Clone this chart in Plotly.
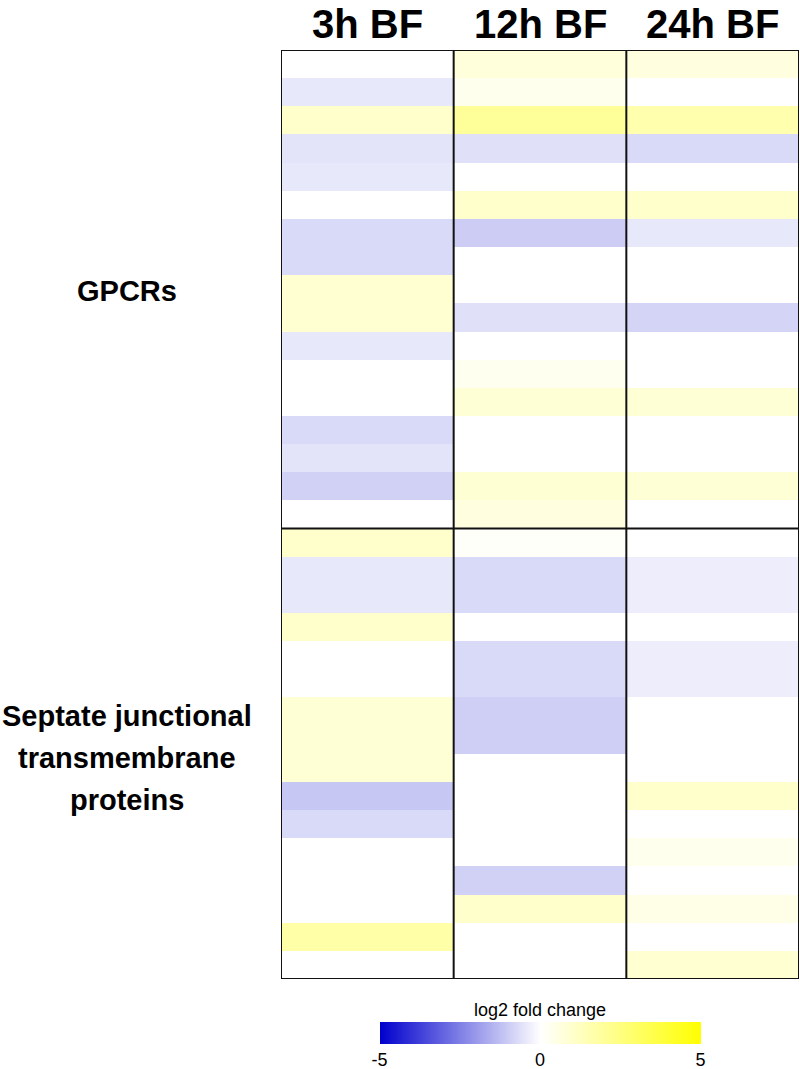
import plotly.graph_objects as go

# columns and row groups
timepoints = ['3h BF', '12h BF', '24h BF']
gpcr_label = ['GPCRs']
sj_label = ['Septate junctional', 'transmembrane', 'proteins']
n_gpcr = 17
n_sj = 16

# log2 fold change, one list per time point (17 GPCR rows, then 16 SJ rows)
fc_3h = [0, -0.45, 1.0, -0.55, -0.45, 0, -0.75, -0.75, 0.9, 0.9, -0.45, 0, 0, -0.75, -0.55, -0.9, 0,
         1.0, -0.45, -0.45, 1.0, 0, 0, 0.8, 0.8, 0.8, -1.1, -0.75, 0, 0, 0, 1.7, 0]
fc_12h = [0.7, 0.35, 2.0, -0.6, 0, 1.0, -1.0, 0, 0, -0.6, 0, 0.3, 0.8, 0, 0, 0.85, 0.6,
          0.1, -0.75, -0.75, 0, -0.75, -0.75, -0.95, -0.95, 0, 0, 0, 0, -0.9, 1.0, 0, 0]
fc_24h = [0.6, 0, 1.6, -0.75, 0, 1.0, -0.45, 0, 0, -0.85, 0, 0, 0.8, 0, 0, 0.8, 0,
          0, -0.35, -0.35, 0, -0.35, -0.35, 0, 0, 0, 1.0, 0, 0.35, 0, 0.45, 0, 0.9]

cbar_ticks = [-5, 0, 5]
cbar_ticktext = ['-5', '0', '5']
cbar_title = 'log2 fold change'

n_rows = n_gpcr + n_sj
z = [[fc_3h[i], fc_12h[i], fc_24h[i]] for i in range(n_rows)]

W, H = 800, 1069
M_L, M_R, M_T, M_B = 281, 1, 50, 90
plot_h = H - M_T - M_B


def py(ypx):
    # page pixel row -> paper fraction
    return (H - M_B - ypx) / plot_h


font_fam = 'Liberation Sans, Arial, sans-serif'

heat = go.Heatmap(
    z=z,
    x=list(range(len(timepoints))),
    y=list(range(n_rows)),
    zmin=-5, zmax=5,
    colorscale=[[0, 'rgb(0,0,205)'], [0.5, 'rgb(255,255,255)'], [1, 'rgb(255,255,0)']],
    colorbar=dict(
        orientation='h',
        x=0.5, xanchor='center', xpad=0,
        y=py(1022), yanchor='top', ypad=0,
        len=321, lenmode='pixels',
        thickness=22,
        outlinewidth=0,
        tickvals=cbar_ticks,
        ticktext=cbar_ticktext,
        ticks='',
        tickfont=dict(family=font_fam, size=18, color='black'),
    ),
    hoverinfo='z',
)

fig = go.Figure(data=[heat])

# black frames around each column / block
shapes = []
for c in range(len(timepoints) + 1):
    shapes.append(dict(type='line', xref='x', yref='y', x0=c - 0.5, x1=c - 0.5,
                       y0=-0.5, y1=n_rows - 0.5, line=dict(color='#111', width=2)))
for r in [0, n_gpcr, n_rows]:
    shapes.append(dict(type='line', xref='x', yref='y', x0=-0.5, x1=len(timepoints) - 0.5,
                       y0=r - 0.5, y1=r - 0.5, line=dict(color='#111', width=2)))

annotations = []
for c, name in enumerate(timepoints):
    annotations.append(dict(text='<b>' + name + '</b>', x=c, y=py(0), xref='x', yref='paper',
                            yanchor='top', showarrow=False,
                            font=dict(family=font_fam, size=40, color='black')))

label_x = (127 - M_L) / (W - M_L - M_R)
for txt, ypx in zip(gpcr_label + sj_label, [291, 716, 758, 800]):
    annotations.append(dict(text='<b>' + txt + '</b>', x=label_x, y=py(ypx), xref='paper', yref='paper',
                            xanchor='center', yanchor='middle', showarrow=False,
                            font=dict(family=font_fam, size=29, color='black')))

# colour bar title
annotations.append(dict(text=cbar_title, x=0.5, y=py(1010), xref='paper', yref='paper',
                        xanchor='center', yanchor='middle', showarrow=False,
                        font=dict(family=font_fam, size=18, color='black')))

fig.update_layout(
    width=W, height=H,
    margin=dict(l=M_L, r=M_R, t=M_T, b=M_B, autoexpand=False),
    paper_bgcolor='white', plot_bgcolor='white',
    xaxis=dict(visible=False, range=[-0.5, 2.5]),
    yaxis=dict(visible=False, range=[n_rows - 0.5, -0.5]),
    shapes=shapes,
    annotations=annotations,
)

fig.write_html("out.html", config={'displayModeBar': False},
               post_script="document.body.style.margin='0';")
